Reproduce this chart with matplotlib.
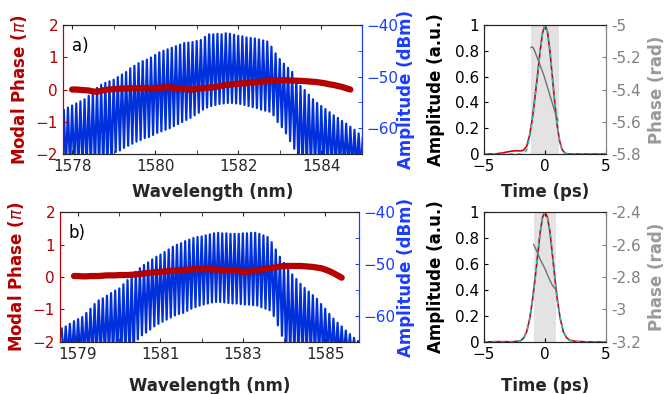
import numpy as np
import matplotlib.pyplot as plt
from matplotlib.ticker import MultipleLocator

# ---- panel a: comb spectrum (one tooth per 0.1 nm from 1577.8 nm) ----
wl_a_start = 1577.8
peak_a = [-56.5, -56.0, -55.6, -55.2, -54.8, -54.4, -53.7, -53.0, -52.2, -51.6,
          -51.2, -50.9, -50.6, -50.1, -49.6, -49.1, -48.4, -47.9, -47.4, -47.0,
          -46.7, -46.3, -45.8, -45.3, -45.0, -44.7, -44.4, -44.1, -43.8, -43.5,
          -43.4, -43.3, -43.1, -42.9, -42.3, -41.8, -41.8, -41.7, -41.8, -41.6,
          -41.7, -41.9, -42.1, -42.2, -42.4, -42.5, -42.6, -42.8, -43.0, -43.2,
          -44.2, -45.5, -46.6, -47.5, -48.3, -49.1, -50.4, -51.8, -52.6, -53.5,
          -54.4, -55.1, -55.7, -56.3, -56.9, -57.5, -58.0, -58.6, -59.1, -59.7,
          -60.3, -61.0, -61.7]
trough_a = [-68, -68, -68, -68, -68, -68, -68, -68, -68, -68,
            -68, -68, -64.6, -64.3, -63.8, -63.4, -63.0, -62.6, -62.3, -61.9,
            -61.7, -61.3, -60.9, -60.6, -60.3, -60.0, -59.6, -59.2, -58.8, -58.4,
            -58.0, -57.5, -57.0, -56.4, -56.0, -55.7, -55.5, -55.3, -55.2, -55.1,
            -55.1, -55.2, -55.3, -55.5, -55.7, -55.9, -56.1, -56.4, -56.6, -56.8,
            -57.5, -58.8, -59.8, -61.0, -62.5, -64.0, -68, -68, -68, -68,
            -68, -68, -68, -68, -68, -68, -68, -68, -68, -68,
            -68, -68, -68]
# modal phase (units of pi), one value per tooth from 1578.0 nm
ph_a_start = 1578.0
phase_a = [0.0, 0.0, -0.01, -0.02, -0.03, -0.06, -0.07, -0.04, -0.01, 0.0,
           0.01, 0.02, 0.03, 0.03, 0.04, 0.04, 0.03, 0.05, 0.04, 0.03,
           0.05, 0.06, 0.06, 0.07, 0.06, 0.04, 0.03, 0.02, 0.0, 0.0,
           0.02, 0.03, 0.05, 0.06, 0.07, 0.09, 0.12, 0.14, 0.15, 0.17,
           0.18, 0.19, 0.2, 0.22, 0.23, 0.24, 0.25, 0.26, 0.27, 0.27,
           0.28, 0.29, 0.28, 0.28, 0.27, 0.27, 0.26, 0.25, 0.24, 0.23,
           0.21, 0.19, 0.16, 0.14, 0.11, 0.08, 0.04, 0.0]

# ---- panel b ----
wl_b_start = 1578.6
peak_b = [-62.4, -62.0, -61.5, -61.0, -60.6, -60.2, -59.4, -58.6, -57.7, -57.0,
          -56.6, -56.1, -55.6, -55.1, -54.7, -53.9, -53.1, -52.3, -51.5, -50.8,
          -50.2, -49.7, -49.1, -48.6, -48.2, -47.7, -47.2, -46.7, -46.3, -46.0,
          -45.6, -45.3, -45.0, -44.8, -44.7, -44.5, -44.3, -44.1, -44.0, -44.1,
          -44.1, -44.2, -44.2, -44.2, -44.1, -44.1, -44.0, -44.0, -44.2, -44.5,
          -44.8, -45.8, -47.2, -48.6, -49.8, -51.0, -52.0, -52.9, -53.8, -54.6,
          -55.3, -56.0, -56.7, -57.7, -58.6, -59.6, -60.5, -61.3, -62.0, -62.8,
          -63.5, -64.2, -64.8]
trough_b = [-68, -68, -68, -68, -68, -68, -68, -68, -68, -68,
            -68, -68, -68, -68, -68, -68, -68, -68, -64.5, -63.7,
            -63.2, -62.6, -62.0, -61.5, -61.1, -60.7, -60.3, -59.9, -59.6, -59.4,
            -59.0, -58.6, -58.3, -58.0, -57.8, -57.6, -57.4, -57.3, -57.3, -57.4,
            -57.5, -57.6, -57.6, -57.7, -57.8, -57.8, -57.9, -58.0, -58.3, -58.6,
            -58.9, -60.0, -61.8, -63.8, -68, -68, -68, -68, -68, -68,
            -68, -68, -68, -68, -68, -68, -68, -68, -68, -68,
            -68, -68, -68]
ph_b_start = 1578.9
phase_b = [0.03, 0.03, 0.02, 0.02, 0.03, 0.03, 0.03, 0.04, 0.05, 0.05,
           0.05, 0.06, 0.06, 0.06, 0.07, 0.08, 0.09, 0.11, 0.12, 0.14,
           0.15, 0.16, 0.17, 0.18, 0.19, 0.2, 0.21, 0.22, 0.23, 0.24,
           0.24, 0.25, 0.24, 0.24, 0.23, 0.23, 0.22, 0.22, 0.22, 0.21,
           0.18, 0.16, 0.16, 0.18, 0.2, 0.22, 0.24, 0.26, 0.28, 0.3,
           0.32, 0.34, 0.34, 0.34, 0.34, 0.34, 0.33, 0.32, 0.31, 0.29,
           0.27, 0.23, 0.18, 0.12, 0.05, -0.02]
tooth_step = 0.1

# ---- temporal pulses ----
t_a = [-5, -4.5, -4, -3.5, -3, -2.75, -2.5, -2.25, -2, -1.75, -1.5, -1.25, -1,
       -0.8, -0.6, -0.4, -0.2, 0, 0.2, 0.4, 0.6, 0.8, 1.0, 1.2, 1.4, 1.6, 1.8,
       2, 2.5, 3, 4, 5]
amp_a = [0, 0, 0.002, 0.008, 0.018, 0.022, 0.025, 0.025, 0.024, 0.03, 0.06,
         0.15, 0.3, 0.46, 0.62, 0.8, 0.94, 1.0, 0.95, 0.8, 0.6, 0.4, 0.22, 0.1,
         0.035, 0.01, 0.002, 0, 0, 0, 0, 0]
fit_a = [0, 0, 0, 0, 0, 0, 0, 0, 0, 0.005, 0.03, 0.13, 0.3, 0.46, 0.62, 0.8,
         0.94, 1.0, 0.95, 0.8, 0.6, 0.4, 0.22, 0.1, 0.035, 0.01, 0.002, 0, 0, 0,
         0, 0]
tph_a = [-1.15, -1.05, -0.9, -0.7, -0.5, -0.3, -0.1, 0.1, 0.3, 0.5, 0.7, 0.9, 1.05]
tphase_a = [-5.14, -5.135, -5.15, -5.19, -5.23, -5.27, -5.31, -5.36, -5.41,
            -5.46, -5.51, -5.56, -5.59]
gate_a = (-1.15, 1.15)

t_b = [-5, -4, -3, -2.5, -2, -1.75, -1.5, -1.25, -1, -0.8, -0.6, -0.4, -0.2, 0,
       0.2, 0.4, 0.6, 0.8, 1, 1.25, 1.5, 1.75, 2, 2.5, 3, 4, 5]
amp_b = [0, 0.003, 0.002, 0.003, 0.01, 0.03, 0.08, 0.18, 0.34, 0.5, 0.67, 0.84,
         0.96, 1.0, 0.96, 0.85, 0.68, 0.5, 0.33, 0.18, 0.08, 0.035, 0.015,
         0.005, 0.003, 0, 0]
fit_b = [0, 0, 0, 0.002, 0.01, 0.03, 0.08, 0.18, 0.34, 0.5, 0.67, 0.84, 0.96,
         1.0, 0.96, 0.85, 0.68, 0.5, 0.33, 0.18, 0.08, 0.035, 0.012, 0.002, 0,
         0, 0]
tph_b = [-0.93, -0.8, -0.6, -0.4, -0.2, 0, 0.2, 0.4, 0.6, 0.8, 0.93]
tphase_b = [-2.60, -2.62, -2.655, -2.69, -2.72, -2.75, -2.785, -2.82, -2.85,
            -2.87, -2.875]
gate_b = (-0.93, 0.93)

RED = '#b30000'
BLUE = '#0030dc'
BLUE_T = '#1a3cff'
GRAY = '#808080'
DARK = '#262626'

plt.rcParams['font.family'] = 'DejaVu Sans'
plt.rcParams['xtick.direction'] = 'in'
plt.rcParams['ytick.direction'] = 'in'

fig = plt.figure(figsize=(6.65, 3.94), dpi=100)


def comb_xy(start, peaks, troughs):
    x, y = [], []
    for i, (p, q) in enumerate(zip(peaks, troughs)):
        w = start + i * tooth_step
        x += [w, w + tooth_step / 2]
        y += [p, q]
    return x, y


def spectrum_panel(rect, start, peaks, troughs, pstart, phase, xlim, xt, tag,
                   xlab_y, rlab_x):
    ax = fig.add_axes(rect)
    ax2 = ax.twinx()
    ax.set_zorder(ax2.get_zorder() + 1)
    ax.patch.set_visible(False)

    x, y = comb_xy(start, peaks, troughs)
    ax2.plot(x, y, color=BLUE, lw=1.6)
    ax2.set_ylim(-65, -40)
    ax2.set_yticks([-60, -50, -40])
    ax2.yaxis.set_minor_locator(MultipleLocator(5))
    ax2.tick_params(axis='y', which='both', colors=BLUE_T, labelsize=11, length=3)
    ax2.set_ylabel('Amplitude (dBm)', color=BLUE_T, fontsize=12, fontweight='bold')
    ax2.yaxis.set_label_coords(rlab_x, 0.5)

    pw = [pstart + i * tooth_step for i in range(len(phase))]
    ax.plot(pw, phase, '-', color=RED, lw=4.5, solid_capstyle='round')
    ax.set_ylim(-2, 2)
    ax.set_yticks([-2, -1, 0, 1, 2])
    ax.set_xlim(*xlim)
    ax.set_xticks(xt)
    ax.xaxis.set_minor_locator(MultipleLocator(1))
    ax.tick_params(axis='y', colors=RED, labelsize=11, length=3)
    ax.tick_params(axis='x', which='both', colors=DARK, labelsize=11, length=3,
                   top=True)
    ax.set_ylabel(r'Modal Phase ($\pi$)', color=RED, fontsize=12, fontweight='bold')
    ax.yaxis.set_label_coords(-0.115, 0.5)
    ax.set_xlabel('Wavelength (nm)', color=DARK, fontsize=12, fontweight='bold')
    ax.xaxis.set_label_coords(0.5, xlab_y)
    ax.text(0.03, 0.80, tag, transform=ax.transAxes, fontsize=12)

    for a in (ax, ax2):
        a.spines['top'].set_color(DARK)
        a.spines['bottom'].set_color(DARK)
        a.spines['left'].set_color(RED)
        a.spines['right'].set_color(BLUE_T)
    return ax


def pulse_panel(rect, t, amp, fit, tph, tphase, gate, plim, pticks, xlab_y):
    ax = fig.add_axes(rect)
    ax2 = ax.twinx()
    ax.axvspan(gate[0], gate[1], color='#e3e3e3', lw=0, zorder=0)
    ax.plot(t, amp, color='#d40000', lw=1.2, zorder=3)
    ax.plot(t, fit, color='#14c8c8', lw=1.2, ls=(0, (2.5, 2.5)), zorder=4)
    ax.set_xlim(-5, 5)
    ax.set_ylim(0, 1)
    ax.set_xticks([-5, 0, 5])
    ax.set_yticks([0, 0.2, 0.4, 0.6, 0.8, 1])
    ax.set_yticklabels(['0', '0.2', '0.4', '0.6', '0.8', '1'])
    ax.tick_params(axis='both', colors='black', labelsize=11, length=3, top=True)
    ax.set_ylabel('Amplitude (a.u.)', fontsize=12, fontweight='bold')
    ax.yaxis.set_label_coords(-0.32, 0.5)
    ax.set_xlabel('Time (ps)', color=DARK, fontsize=12, fontweight='bold')
    ax.xaxis.set_label_coords(0.5, xlab_y)

    ax2.plot(tph, tphase, color='#707070', lw=1.0)
    ax2.set_ylim(*plim)
    ax2.set_yticks(pticks)
    ax2.set_yticklabels([f'{v:g}' for v in pticks])
    ax2.tick_params(axis='y', colors=GRAY, labelsize=11, length=3)
    ax2.set_ylabel('Phase (rad)', color='#999999', fontsize=12, fontweight='bold')
    ax2.yaxis.set_label_coords(1.34, 0.5)
    for a in (ax, ax2):
        a.spines['right'].set_color(GRAY)
        a.spines['left'].set_color(DARK)
        a.spines['top'].set_color(DARK)
        a.spines['bottom'].set_color(DARK)


spectrum_panel([0.0947, 0.6091, 0.4496, 0.3274], wl_a_start, peak_a, trough_a,
               ph_a_start, phase_a, (1577.78, 1584.98), [1578, 1580, 1582, 1584],
               'a)', -0.225, 1.117)
spectrum_panel([0.0902, 0.1320, 0.4496, 0.3299], wl_b_start, peak_b, trough_b,
               ph_b_start, phase_b, (1578.56, 1585.82), [1579, 1581, 1583, 1585],
               'b)', -0.27, 1.127)
pulse_panel([0.7278, 0.6091, 0.1835, 0.3274], t_a, amp_a, fit_a, tph_a, tphase_a,
            gate_a, (-5.8, -5.0), [-5.8, -5.6, -5.4, -5.2, -5.0], -0.225)
pulse_panel([0.7278, 0.1320, 0.1835, 0.3299], t_b, amp_b, fit_b, tph_b, tphase_b,
            gate_b, (-3.2, -2.4), [-3.2, -3.0, -2.8, -2.6, -2.4], -0.27)

fig.savefig('out.png', dpi=100)
